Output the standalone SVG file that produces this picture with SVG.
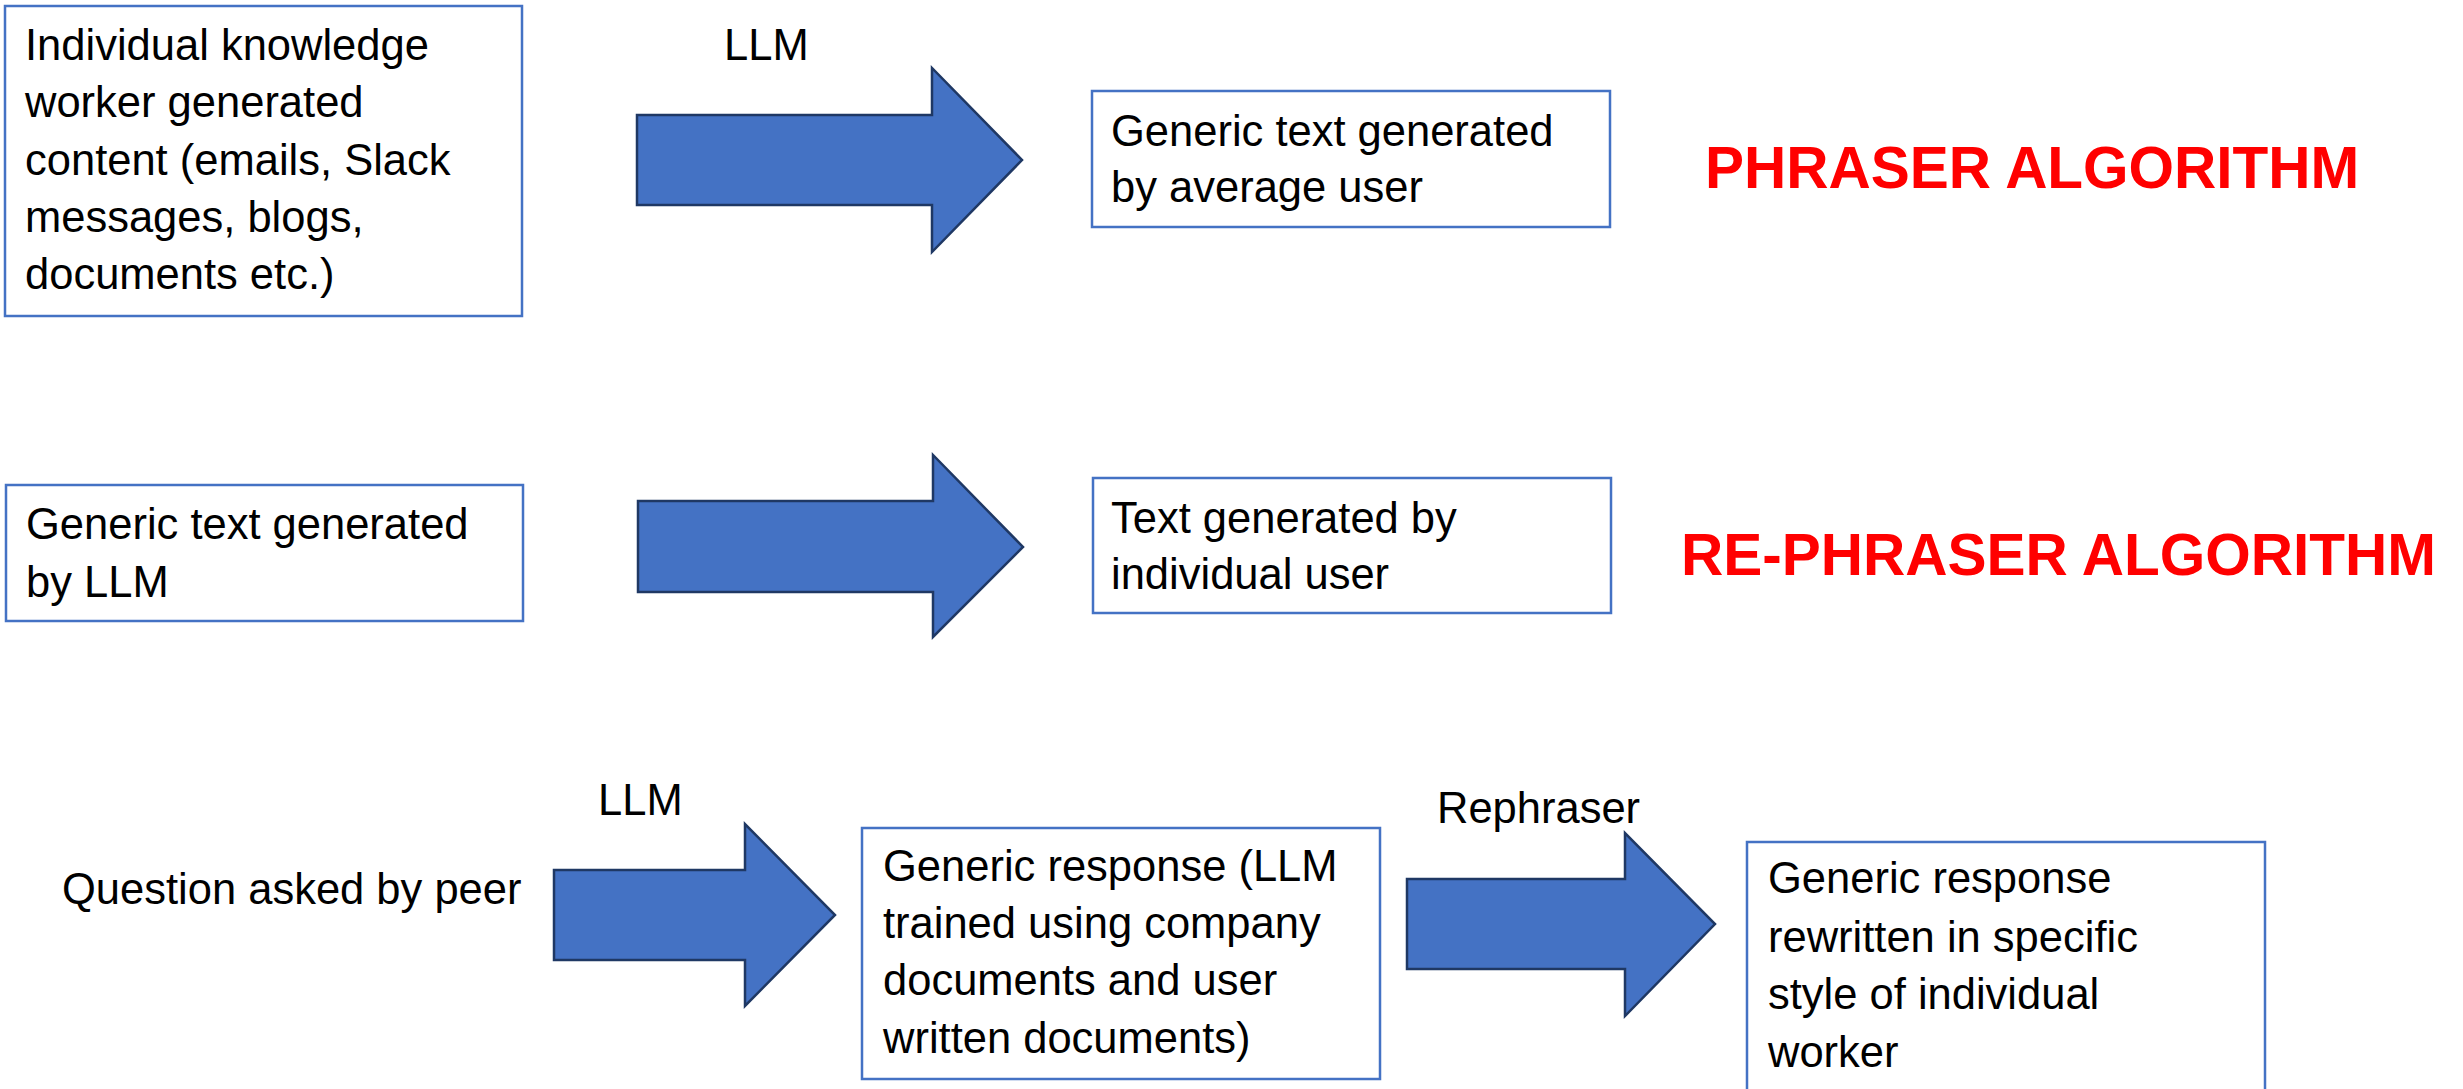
<svg xmlns="http://www.w3.org/2000/svg" width="2463" height="1089" viewBox="0 0 2463 1089">
<style>
.box{fill:#FFFFFF;stroke:#4472C4;stroke-width:2.5}
.t{font-family:"Liberation Sans",Arial,sans-serif;font-size:43.5px;fill:#000000}
.title{font-family:"Liberation Sans",Arial,sans-serif;font-size:58.5px;font-weight:bold;fill:#FF0000}
.arrow{fill:#4472C4;stroke:#1F3864;stroke-width:2.5;stroke-linejoin:miter}
</style>
<rect width="2463" height="1089" fill="#FFFFFF"/>
<g id="connectors">
<polygon class="arrow" points="637,115 932,115 932,68 1022,160 932,252 932,205 637,205"/>
<polygon class="arrow" points="638,501 933,501 933,455 1023,547 933,637 933,592 638,592"/>
<polygon class="arrow" points="554,870 745,870 745,824 835,915 745,1006 745,960 554,960"/>
<polygon class="arrow" points="1407,879 1625,879 1625,833 1715,924 1625,1016 1625,969 1407,969"/>
</g>
<g id="label-llm-1"><text class="t" x="724" y="60">LLM</text></g>
<g id="label-llm-2"><text class="t" x="598" y="815">LLM</text></g>
<g id="label-rephraser"><text class="t" x="1437" y="823">Rephraser</text></g>
<g id="node-content">
<rect class="box" x="5" y="6" width="517" height="310"/>
<text class="t" x="25" y="60">Individual knowledge</text>
<text class="t" x="25" y="117">worker generated</text>
<text class="t" x="25" y="175">content (emails, Slack</text>
<text class="t" x="25" y="232">messages, blogs,</text>
<text class="t" x="25" y="289">documents etc.)</text>
</g>
<g id="node-generic-average">
<rect class="box" x="1092" y="91" width="518" height="136"/>
<text class="t" x="1111" y="146">Generic text generated</text>
<text class="t" x="1111" y="202">by average user</text>
</g>
<g id="title-phraser"><text class="title" x="1705" y="188">PHRASER ALGORITHM</text></g>
<g id="node-generic-llm">
<rect class="box" x="6" y="485" width="517" height="136"/>
<text class="t" x="26" y="539">Generic text generated</text>
<text class="t" x="26" y="597">by LLM</text>
</g>
<g id="node-individual">
<rect class="box" x="1093" y="478" width="518" height="135"/>
<text class="t" x="1111" y="533">Text generated by</text>
<text class="t" x="1111" y="589">individual user</text>
</g>
<g id="title-rephraser"><text class="title" x="1681" y="575">RE-PHRASER ALGORITHM</text></g>
<g id="node-question"><text class="t" x="62" y="904">Question asked by peer</text></g>
<g id="node-generic-response">
<rect class="box" x="862" y="828" width="518" height="251"/>
<text class="t" x="883" y="881">Generic response (LLM</text>
<text class="t" x="883" y="938">trained using company</text>
<text class="t" x="883" y="995">documents and user</text>
<text class="t" x="883" y="1053">written documents)</text>
</g>
<g id="node-rewritten">
<rect class="box" x="1747" y="842" width="518" height="270"/>
<text class="t" x="1768" y="893">Generic response</text>
<text class="t" x="1768" y="952">rewritten in specific</text>
<text class="t" x="1768" y="1009">style of individual</text>
<text class="t" x="1768" y="1067">worker</text>
</g>
</svg>
